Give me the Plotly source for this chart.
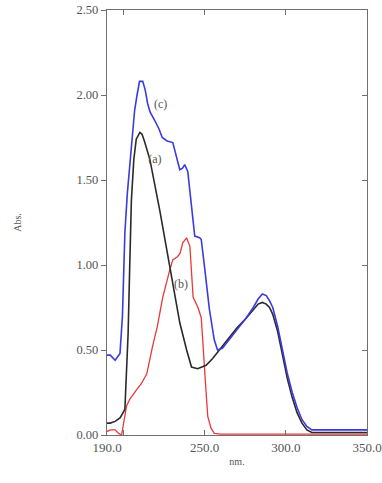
import plotly.graph_objects as go

# wavelength (nm) and absorbance for each spectrum
wl_c = [190, 192, 195, 198, 199.5, 201, 202.5, 204, 205.5, 207, 208.5, 210, 212, 213.5, 215, 216.5, 219.4, 222, 224,
        227, 230.5, 233, 234.8, 236.5, 237.8, 239.7, 242, 244, 247, 248, 250, 251.5, 253, 256, 258, 261,
        265, 270, 275, 280, 283, 285.6, 288, 290, 292, 295, 298, 301, 304, 307, 310, 313, 316, 320, 330, 340, 350]
abs_c = [0.47, 0.47, 0.44, 0.48, 0.70, 1.19, 1.42, 1.58, 1.75, 1.91, 2.00, 2.08, 2.08, 2.03, 1.95, 1.90, 1.85, 1.80, 1.75,
         1.73, 1.72, 1.62, 1.56, 1.57, 1.59, 1.55, 1.34, 1.17, 1.16, 1.15, 0.99, 0.86, 0.74, 0.56, 0.50, 0.51,
         0.56, 0.62, 0.68, 0.75, 0.80, 0.83, 0.82, 0.79, 0.75, 0.64, 0.50, 0.36, 0.25, 0.16, 0.09, 0.05, 0.03, 0.03, 0.03, 0.03, 0.03]

wl_a = [190, 192, 195, 198, 201, 202, 203, 204, 205, 206.5, 208, 210.2, 211.5, 213, 216.4, 222.5, 226.8, 230.5, 234.8,
        239, 242, 245.8, 251, 255, 260, 265, 270, 275, 280, 283, 285.6, 288, 290, 292, 295, 298, 301, 304,
        307, 310, 313, 316, 320, 330, 340, 350]
abs_a = [0.07, 0.07, 0.08, 0.10, 0.15, 0.35, 0.60, 1.00, 1.38, 1.62, 1.74, 1.78, 1.77, 1.73, 1.62, 1.32, 1.09, 0.87, 0.66,
         0.50, 0.40, 0.39, 0.41, 0.45, 0.51, 0.57, 0.63, 0.68, 0.74, 0.77, 0.78, 0.77, 0.75,
         0.71, 0.61, 0.47, 0.33, 0.22, 0.13, 0.07, 0.03, 0.015, 0.015, 0.015, 0.015, 0.015]

wl_b = [190, 192, 195, 197, 199, 200.5, 202, 204, 206, 208.5, 211, 214.5, 218, 221, 224.3, 226.5, 228.6, 230.5, 233.5,
        235, 236.6, 239, 241, 243, 246, 248, 249, 250, 251, 252, 254, 256, 260, 280, 300, 320, 350]
abs_b = [0.02, 0.03, 0.03, 0.01, 0.00, 0.08, 0.17, 0.21, 0.24, 0.27, 0.30, 0.36, 0.52, 0.64, 0.81, 0.90, 0.97, 1.03, 1.05,
         1.07, 1.13, 1.16, 1.11, 0.81, 0.75, 0.69, 0.56, 0.42, 0.25, 0.11, 0.04, 0.01, 0.005, 0.005, 0.005, 0.005, 0.005]

x_tick_vals = [190, 250, 300, 350]
x_tick_text = ["190.0", "250.0", "300.0", "350.0"]
x_mark_vals = [200, 250, 300, 350]
y_tick_vals = [0, 0.5, 1.0, 1.5, 2.0, 2.5]
y_tick_text = ["0.00", "0.50", "1.00", "1.50", "2.00", "2.50"]

labels = ["(c)", "(a)", "(b)"]
label_x = [223, 219.5, 235.5]
label_y = [1.94, 1.62, 0.88]

FONT = "Liberation Serif"
AX = "#707070"

fig = go.Figure()
fig.add_trace(go.Scatter(x=wl_b, y=abs_b, mode="lines", line=dict(color="#e8383a", width=1.3), showlegend=False))
fig.add_trace(go.Scatter(x=wl_a, y=abs_a, mode="lines", line=dict(color="#2a2a2a", width=1.6), showlegend=False))
fig.add_trace(go.Scatter(x=wl_c, y=abs_c, mode="lines", line=dict(color="#3b3be0", width=1.6), showlegend=False))
fig.add_trace(go.Scatter(x=label_x, y=label_y, mode="text", text=labels,
                         textfont=dict(family=FONT, size=12, color="#555555"), showlegend=False))
# helper invisible trace for tick-mark axes
fig.add_trace(go.Scatter(x=[190, 350], y=[0, 2.5], xaxis="x2", yaxis="y2", mode="markers",
                         marker=dict(opacity=0), showlegend=False, hoverinfo="skip"))

fig.update_layout(
    width=382, height=483,
    margin=dict(l=107, r=15, t=10, b=48),
    paper_bgcolor="white", plot_bgcolor="white",
    font=dict(family=FONT, size=12, color="#555555"),
    xaxis=dict(range=[190, 350], tickvals=x_tick_vals, ticktext=x_tick_text, ticks="", automargin=False,
               showgrid=False, zeroline=False, showline=True, linecolor=AX, linewidth=1.3, mirror=True,
               title=dict(text="nm.", font=dict(size=10, color="#555555"), standoff=4),
               tickfont=dict(size=13)),
    yaxis=dict(range=[0, 2.5], tickvals=y_tick_vals, ticktext=y_tick_text, ticks="outside", ticklen=5,
               automargin=False,
               tickcolor=AX, showgrid=False, zeroline=False, showline=True, linecolor=AX, linewidth=1.3, mirror=True,
               title=dict(text="Abs.", font=dict(size=10, color="#555555"), standoff=52),
               tickfont=dict(size=12.5)),
    xaxis2=dict(overlaying="x", matches="x", anchor="y2", side="bottom", range=[190, 350], automargin=False,
                tickvals=x_mark_vals, ticks="inside", ticklen=5, tickcolor=AX, mirror="ticks",
                showticklabels=False, showgrid=False, zeroline=False, showline=False),
    yaxis2=dict(overlaying="y", matches="y", anchor="x2", side="right", range=[0, 2.5], automargin=False,
                tickvals=y_tick_vals, ticks="inside", ticklen=5, tickcolor=AX,
                showticklabels=False, showgrid=False, zeroline=False, showline=False),
)

fig.write_html("out.html")
